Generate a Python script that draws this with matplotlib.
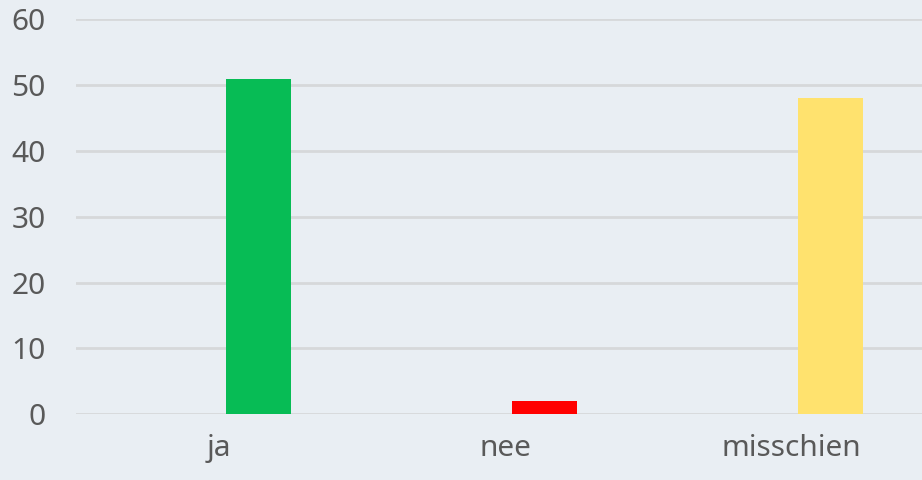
import matplotlib
matplotlib.use("Agg")
import matplotlib.pyplot as plt

categories = ["ja", "nee", "misschien"]
values = [51, 2, 48]
colors = ["#07BC55", "#FF0000", "#FFE26E"]
yticks = [0, 10, 20, 30, 40, 50, 60]

W, H = 922, 480
fig = plt.figure(figsize=(W / 100, H / 100), dpi=100)
fig.patch.set_facecolor("#E9EEF3")

left = 76 / W
width = 858 / W
bottom = (H - 414.3) / H
top = (H - 19.3) / H
ax = fig.add_axes([left, bottom, width, top - bottom])
ax.set_facecolor("none")

x = list(range(len(categories)))
bar_offset = 0.137
ax.bar([i + bar_offset for i in x], values, width=0.226, color=colors, zorder=3)

ax.set_xlim(-0.5, 2.5)
ax.set_ylim(0, 60)
ax.set_yticks(yticks)
ax.set_yticklabels([str(t) for t in yticks])
ax.set_xticks(x)
ax.set_xticklabels(categories)

for s in ax.spines.values():
    s.set_visible(False)
ax.yaxis.grid(True, color="#D6D8DA", linewidth=2, zorder=0)
ax.set_axisbelow(True)
ax.tick_params(axis="both", length=0, labelsize=21.5, colors="#595959")
for lbl in ax.get_xticklabels() + ax.get_yticklabels():
    lbl.set_fontfamily("Noto Sans")
    lbl.set_clip_on(False)
ax.tick_params(axis="y", pad=22)
ax.tick_params(axis="x", pad=14)

fig.savefig("out.png", dpi=100, facecolor=fig.get_facecolor())
